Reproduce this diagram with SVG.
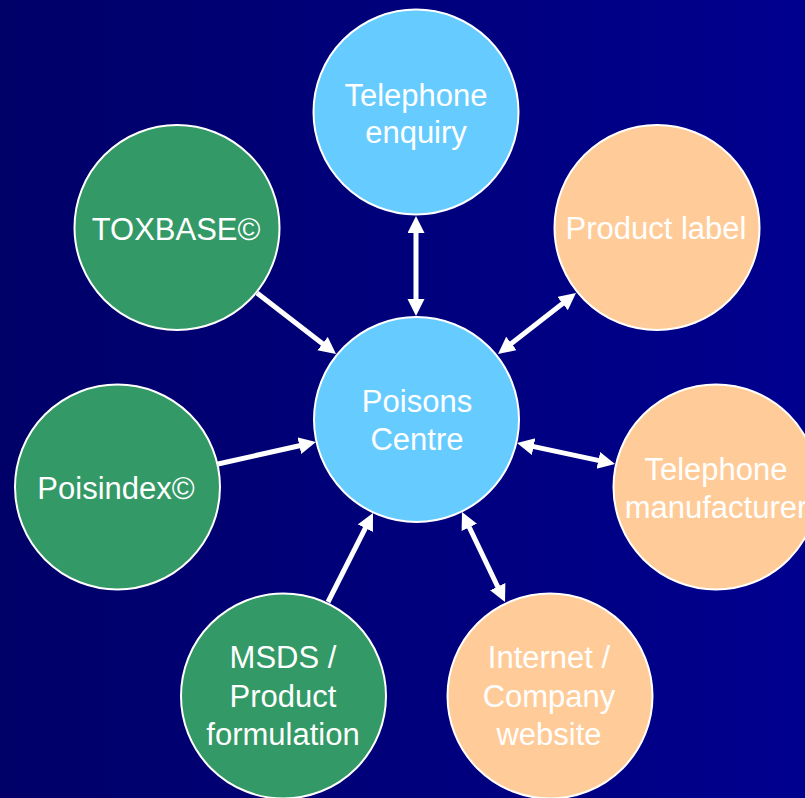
<svg xmlns="http://www.w3.org/2000/svg" width="805" height="798" viewBox="0 0 805 798">
<defs>
<linearGradient id="bg" x1="0" y1="0" x2="1" y2="0">
<stop offset="0" stop-color="#000068"/>
<stop offset="1" stop-color="#00008F"/>
</linearGradient>
<marker id="ah" markerUnits="userSpaceOnUse" markerWidth="18" markerHeight="18" refX="7" refY="8.5" orient="auto-start-reverse" viewBox="0 0 18 18">
<path d="M0,0 L17,8.5 L0,17 z" fill="#FFFFFF"/>
</marker>
<style>
.node circle{stroke:#FFFFFF;stroke-width:2}
.blue{fill:#66CCFF}
.peach{fill:#FFCC99}
.green{fill:#339966}
.node text{font-family:"Liberation Sans",Arial,sans-serif;font-size:31px;fill:#FFFFFF;text-anchor:middle}
#connectors line{stroke:#FFFFFF;stroke-width:5}
</style>
</defs>
<rect width="805" height="798" fill="url(#bg)"/>
<g id="n-telephone-enquiry" class="node">
<circle class="blue" cx="416" cy="112" r="102.5"/>
<text x="416" y="106">Telephone</text>
<text x="416" y="143">enquiry</text>
</g>
<g id="n-product-label" class="node">
<circle class="peach" cx="657" cy="227.5" r="102.5"/>
<text x="656" y="239">Product label</text>
</g>
<g id="n-toxbase" class="node">
<circle class="green" cx="177" cy="227.5" r="102.5"/>
<text x="176" y="240">TOXBASE©</text>
</g>
<g id="n-poisons-centre" class="node">
<circle class="blue" cx="416.5" cy="419.5" r="102.5"/>
<text x="417" y="412">Poisons</text>
<text x="417" y="450">Centre</text>
</g>
<g id="n-poisindex" class="node">
<circle class="green" cx="117.5" cy="487" r="102.5"/>
<text x="116" y="499">Poisindex©</text>
</g>
<g id="n-telephone-manufacturer" class="node">
<circle class="peach" cx="716" cy="487" r="102.5"/>
<text x="716" y="480">Telephone</text>
<text x="716" y="518">manufacturer</text>
</g>
<g id="n-msds" class="node">
<circle class="green" cx="283.5" cy="696" r="102.5"/>
<text x="283" y="668">MSDS /</text>
<text x="283" y="707">Product</text>
<text x="283" y="745">formulation</text>
</g>
<g id="n-internet" class="node">
<circle class="peach" cx="550" cy="696" r="102.5"/>
<text x="549" y="668">Internet /</text>
<text x="549" y="707">Company</text>
<text x="549" y="745">website</text>
</g>
<g id="connectors">
<line x1="416" y1="226" x2="416" y2="306" marker-start="url(#ah)" marker-end="url(#ah)"/>
<line x1="505.9" y1="347.8" x2="568.1" y2="299.2" marker-start="url(#ah)" marker-end="url(#ah)"/>
<line x1="257" y1="293" x2="328.1" y2="347.9" marker-end="url(#ah)"/>
<line x1="218" y1="464" x2="306.2" y2="444.2" marker-end="url(#ah)"/>
<line x1="526.8" y1="445.1" x2="605.2" y2="461.9" marker-start="url(#ah)" marker-end="url(#ah)"/>
<line x1="328" y1="602" x2="368.5" y2="521.9" marker-end="url(#ah)"/>
<line x1="466.3" y1="521" x2="500.7" y2="593" marker-start="url(#ah)" marker-end="url(#ah)"/>
</g>
</svg>
